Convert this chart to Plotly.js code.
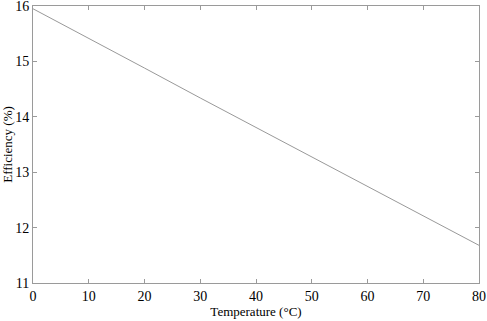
<!DOCTYPE html>
<html><head><meta charset="utf-8">
<script src="https://cdn.plot.ly/plotly-3.0.1.min.js"></script>
<style>html,body{margin:0;padding:0;background:#fff}</style>
</head><body>
<div id="chart" style="width:487px;height:321px"></div>
<script>
const temperature = [0, 10, 20, 30, 40, 50, 60, 70, 80];
const efficiency = [15.95, 15.42, 14.88, 14.34, 13.81, 13.27, 12.74, 12.21, 11.68];
const xTicks = [0, 10, 20, 30, 40, 50, 60, 70, 80];
const yTicks = [11, 12, 13, 14, 15, 16];

const axisCommon = {
  showline: true, linecolor: '#9a9a9a', linewidth: 1, mirror: 'ticks',
  ticks: 'inside', ticklen: 4, tickcolor: '#9a9a9a',
  showgrid: false, zeroline: false, ticklabeloverflow: 'allow',
  tickfont: {family: 'Liberation Serif, Times New Roman, serif', size: 14, color: '#000'}
};

Plotly.newPlot('chart', [{
  x: temperature, y: efficiency, type: 'scatter', mode: 'lines',
  line: {color: '#999999', width: 1}
}], {
  width: 487, height: 321,
  margin: {l: 33, r: 8, t: 6, b: 38},
  paper_bgcolor: '#fff', plot_bgcolor: '#fff',
  showlegend: false,
  xaxis: Object.assign({}, axisCommon, {
    range: [0, 80], tickvals: xTicks,
    title: {text: 'Temperature (°C)', standoff: 2,
      font: {family: 'Liberation Serif, Times New Roman, serif', size: 13, color: '#000'}}
  }),
  yaxis: Object.assign({}, axisCommon, {
    range: [11, 16.0001], tickvals: yTicks,
    title: {text: 'Efficiency (%)', standoff: 2,
      font: {family: 'Liberation Serif, Times New Roman, serif', size: 13, color: '#000'}}
  })
}, {displayModeBar: false, staticPlot: true});
</script>
</body></html>
